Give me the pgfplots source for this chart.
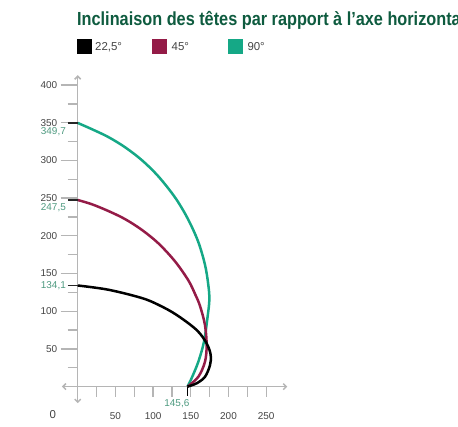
\documentclass[border=0pt]{standalone}
\usepackage{fontspec}
\setmainfont{Liberation Sans}
\newfontfamily\titlefont[FakeStretch=0.86]{Liberation Sans}
\usepackage{pgfplots}
\pgfplotsset{compat=1.18}
\usetikzlibrary{arrows.meta}
\definecolor{cred}{HTML}{941B47}
\definecolor{cteal}{HTML}{15A886}
\definecolor{ctitle}{HTML}{0E5B3F}
\definecolor{clab}{HTML}{4E9A80}
\definecolor{caxis}{HTML}{B5B5B5}
\definecolor{ctext}{HTML}{444444}
\begin{document}
\begin{tikzpicture}[x=1bp,y=1bp]
\node[anchor=base west, inner sep=0, text=ctitle, font=\titlefont\bfseries\fontsize{19}{21}\selectfont] at (77,400) {Inclinaison des têtes par rapport à l’axe horizontal};
% legend
\fill[black] (76.7,372) rectangle (92.3,386.7);
\fill[cred] (151.7,372) rectangle (167.3,386.7);
\fill[cteal] (227.7,372) rectangle (243.3,386.7);
\node[anchor=base west, inner sep=0, text=ctext, font=\fontsize{11.5}{13}\selectfont] at (95,375.3) {22,5°};
\node[anchor=base west, inner sep=0, text=ctext, font=\fontsize{11.5}{13}\selectfont] at (171.5,375.3) {45°};
\node[anchor=base west, inner sep=0, text=ctext, font=\fontsize{11.5}{13}\selectfont] at (247.3,375.3) {90°};
\begin{axis}[
  at={(77.7bp,39.4bp)}, anchor=origin,
  x=0.754bp, y=0.754bp,
  xmin=-21, xmax=278, ymin=-22, ymax=413,
  axis lines=middle,
  clip=false,
  axis line style={caxis, line width=1.5bp, >={Straight Barb[length=3bp,width=6bp]}},
  every inner x axis line/.append style={<->},
  every inner y axis line/.append style={<->},
  tick align=outside,
  major tick length=17bp, minor tick length=10bp,
  tick style={caxis, line width=1.3bp},
  ytick={50,100,...,400}, minor ytick={25,75,...,375},
  xtick={50,100,...,250}, minor xtick={25,50,...,250},
  major x tick style={draw=none},
  /pgf/number format/assume math mode=true,
  ticklabel style={font=\fontsize{10}{12}\selectfont, text=ctext},
  xticklabel style={yshift=-5bp},
]
\addplot[cteal, line width=2.5bp, smooth, tension=0.55] coordinates {
(145.6,0) (151,11) (160,33) (167.5,59.6) (172,90.6) (174.6,115) (173.2,135) (168.8,161.7) (159.5,193) (145.5,223.6) (129,251) (106.9,278.9) (84.9,300.5) (62.7,317.5) (40.6,331) (18.6,341.5) (0,349.7)};
\addplot[cred, line width=2.5bp, smooth, tension=0.55] coordinates {
(145.6,0) (160,13) (168.8,33) (171,55) (168.8,81.7) (162.2,107) (156,122) (146.7,141) (129,166.2) (106.9,190.1) (84.9,208) (62.7,222.2) (40.6,232.9) (18.6,241.9) (0,247.5)};
\addplot[black, line width=2.5bp, smooth, tension=0.55] coordinates {
(145.6,0) (157.8,4.4) (168.8,13) (175.5,28.6) (176.4,42) (171,57.4) (157.8,75) (131.3,95) (108,108) (84.9,117.5) (40.6,128.5) (0,134.1)};
\draw[black!85, line width=1.3bp] (axis cs:-13,349.7) -- (axis cs:0,349.7);
\draw[black!85, line width=1.3bp] (axis cs:-13,247.5) -- (axis cs:0,247.5);
\draw[black!85, line width=1.3bp] (axis cs:-13,134.1) -- (axis cs:0,134.1);
\draw[black, line width=1.5bp] (axis cs:145.6,0) -- (axis cs:145.6,-13);
\node[anchor=east, inner sep=0, text=clab, font=\fontsize{10}{12}\selectfont] at (axis cs:-15.5,337.7) {349,7};
\node[anchor=east, inner sep=0, text=clab, font=\fontsize{10}{12}\selectfont] at (axis cs:-15.5,236.9) {247,5};
\node[anchor=east, inner sep=0, text=clab, font=\fontsize{10}{12}\selectfont] at (axis cs:-15.5,134.1) {134,1};
\node[anchor=east, inner sep=0, text=clab, font=\fontsize{10}{12}\selectfont] at (axis cs:148.3,-23) {145,6};
\node[text=ctext, font=\fontsize{11.5}{13}\selectfont] at (axis cs:-33,-37.7) {0};
\end{axis}
\pgfresetboundingbox
\useasboundingbox (0,0) rectangle (458,426);
\end{tikzpicture}
\end{document}
